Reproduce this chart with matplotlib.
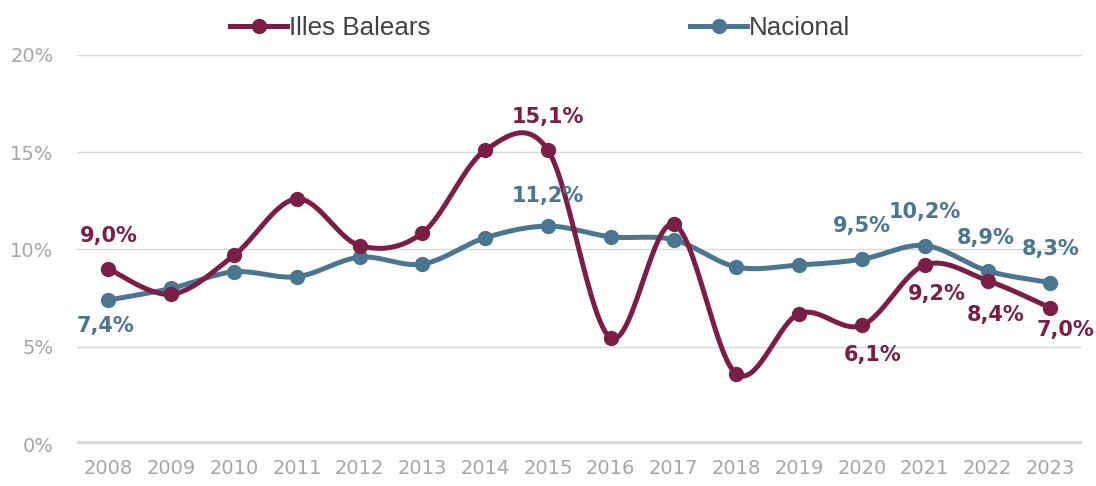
import matplotlib.pyplot as plt
import numpy as np
from matplotlib.lines import Line2D

balears_red = '#7B1E45'
nacional_blue = '#4B7690'
grid_grey = '#D9D9D9'
tick_grey = '#A6A6A6'

years = ['2008', '2009', '2010', '2011', '2012', '2013', '2014', '2015',
         '2016', '2017', '2018', '2019', '2020', '2021', '2022', '2023']
balears = [9.0, 7.7, 9.7, 12.6, 10.2, 10.85, 15.1, 15.1,
           5.45, 11.3, 3.6, 6.7, 6.1, 9.2, 8.4, 7.0]
nacional = [7.4, 8.0, 8.85, 8.6, 9.6, 9.25, 10.6, 11.2,
            10.65, 10.5, 9.1, 9.2, 9.5, 10.2, 8.9, 8.3]

# which points get a label, and the offset of the label (points)
balears_labels = {0: (0, 24), 7: (0, 24), 12: (8, -21), 13: (9, -21), 14: (6, -25), 15: (11, -16)}
nacional_labels = {0: (-2, -19), 7: (0, 22), 12: (0, 24), 13: (0, 24), 14: (-1, 24), 15: (0, 24)}


def smooth(y, steps=30):
    """excel-like smoothed line (catmull-rom bezier between the points)"""
    x = np.arange(len(y), dtype=float)
    y = np.asarray(y, dtype=float)
    xs, ys = [], []
    t = np.linspace(0, 1, steps)
    for i in range(len(y) - 1):
        i0, i3 = max(i - 1, 0), min(i + 2, len(y) - 1)
        p0, p1, p2, p3 = [np.array([x[k], y[k]]) for k in (i0, i, i + 1, i3)]
        c1 = p1 + (p2 - p0) / 6
        c2 = p2 - (p3 - p1) / 6
        pts = ((1 - t) ** 3)[:, None] * p1 + (3 * (1 - t) ** 2 * t)[:, None] * c1 \
            + (3 * (1 - t) * t ** 2)[:, None] * c2 + (t ** 3)[:, None] * p2
        xs.extend(pts[:, 0])
        ys.extend(pts[:, 1])
    return xs, ys


plt.rcParams['font.family'] = ['DejaVu Sans']

fig = plt.figure(figsize=(10.96, 4.86), dpi=100)
ax = fig.add_axes([0.0703, 0.0864, 0.9167, 0.8006])

x = np.arange(len(years))
for data, color, labels in [(nacional, nacional_blue, nacional_labels),
                            (balears, balears_red, balears_labels)]:
    sx, sy = smooth(data)
    ax.plot(sx, sy, color=color, lw=3.6, solid_capstyle='round', zorder=3)
    ax.plot(x, data, 'o', color=color, ms=10, zorder=4)
    for i, (dx, dy) in labels.items():
        ax.annotate(f'{data[i]:.1f}%'.replace('.', ','), (x[i], data[i]),
                    xytext=(dx, dy), textcoords='offset points',
                    ha='center', va='center', fontsize=15, fontweight='bold',
                    color=color, zorder=5)

ax.set_xlim(-0.5, len(years) - 0.5)
ax.set_ylim(0, 20)
ax.set_yticks([0, 5, 10, 15, 20])
ax.set_yticklabels(['0%', '5%', '10%', '15%', '20%'])
ax.set_xticks(x)
ax.set_xticklabels(years)
ax.tick_params(axis='both', length=0, labelsize=14, labelcolor=tick_grey)
ax.tick_params(axis='x', pad=11)
ax.tick_params(axis='y', pad=17)
for spine in ax.spines.values():
    spine.set_visible(False)
ax.grid(axis='y', color=grid_grey, lw=1)
ax.axhline(0, color=grid_grey, lw=4, zorder=2)
ax.set_axisbelow(True)

handles = [Line2D([], [], color=balears_red, lw=3.6, marker='o', ms=10),
           Line2D([], [], color=nacional_blue, lw=3.6, marker='o', ms=10)]
fig.legend(handles, ['Illes Balears', 'Nacional'], loc='center', bbox_to_anchor=(0.4927, 0.943),
           ncol=2, frameon=False, handlelength=2.2, handletextpad=0.05, columnspacing=10,
           prop={'family': 'Liberation Sans', 'size': 18.7},
           labelcolor='#404040')

fig.savefig('out.png', dpi=100)
